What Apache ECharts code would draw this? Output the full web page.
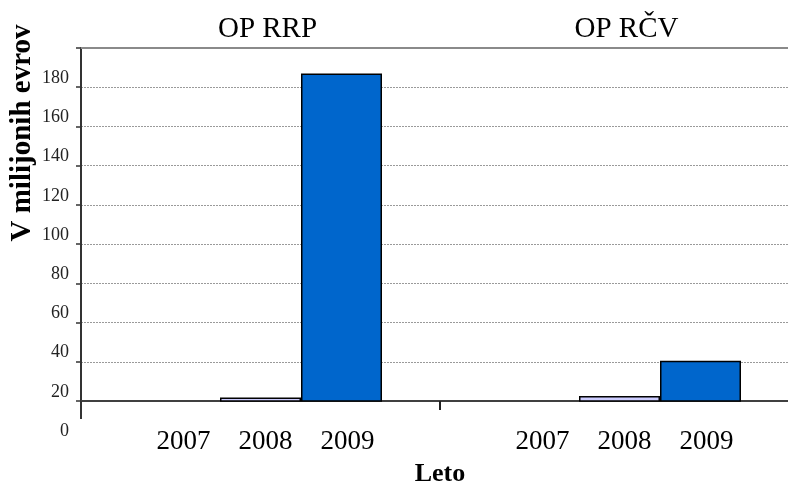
<!DOCTYPE html>
<html>
<head>
<meta charset="utf-8">
<script src="https://cdn.jsdelivr.net/npm/echarts@6/dist/echarts.min.js"></script>
<style>
html,body{margin:0;padding:0;background:#fff;}
#chart{width:788px;height:486px;}
</style>
</head>
<body>
<div id="chart"></div>
<script>
const groups = ['OP RRP', 'OP RČV'];
const years = ['2007', '2008', '2009'];
const values2007 = [0, 0];
const values2008 = [21.8, 22.5];
const values2009 = [187, 40.5];
const yAxisTitle = 'V milijonih evrov';
const xAxisTitle = 'Leto';

const FONT = 'Liberation Serif';
const chart = echarts.init(document.getElementById('chart'), null, { renderer: 'canvas' });

const seriesValues = [values2007, values2008, values2009];
const seriesColors = ['#9999FF', '#CCCCFF', '#0066CC'];

const option = {
  animation: false,
  backgroundColor: '#ffffff',
  grid: [
    { left: 81, width: 718, top: 48, bottom: 85, containLabel: false, outerBoundsMode: 'none' },
    { left: 81, width: 718, top: 48, bottom: 46, containLabel: false, outerBoundsMode: 'none' }
  ],
  xAxis: [
    {
      type: 'category', gridIndex: 0, position: 'bottom', data: groups,
      axisLine: { show: true, lineStyle: { color: '#404040', width: 2 } },
      axisTick: { show: true, length: 9, lineStyle: { color: '#202020', width: 2 } },
      axisLabel: {
        interval: 0, margin: 27, padding: [0, 0, 0, 10],
        formatter: function () { return years.map(function (y) { return '{y|' + y + '}'; }).join(''); },
        rich: { y: { width: 82, align: 'center', fontSize: 27, fontFamily: FONT, color: '#000' } }
      },
      name: xAxisTitle, nameLocation: 'middle', nameGap: 60,
      nameTextStyle: { fontFamily: FONT, fontSize: 26, fontWeight: 'bold', color: '#000' }
    },
    {
      type: 'category', gridIndex: 0, position: 'top', data: groups,
      axisLine: { show: true, lineStyle: { color: '#8a8a8a', width: 2 } },
      axisTick: { show: false },
      axisLabel: { interval: 0, margin: 4, padding: [0, 0, 0, 14], fontFamily: FONT, fontSize: 29, color: '#000' }
    },
    {
      type: 'category', gridIndex: 0, position: 'bottom', data: groups,
      axisLine: { show: false },
      axisLabel: { show: false },
      axisTick: { show: true, length: 18, interval: function (i) { return i === 0; }, lineStyle: { color: '#333', width: 2 } }
    },
    {
      type: 'category', gridIndex: 1, data: groups, show: false
    }
  ],
  yAxis: [
    {
      type: 'value', gridIndex: 0, min: 20, max: 200, interval: 20,
      axisLine: { show: true, lineStyle: { color: '#333', width: 2 } },
      axisTick: { show: true, inside: false, length: 5, lineStyle: { color: '#333', width: 1.5 } },
      axisLabel: { show: false },
      splitLine: { show: true, lineStyle: { color: '#9a9a9a', width: 1, type: [2, 1] } }
    },
    {
      type: 'value', gridIndex: 1, min: 0, max: 200, interval: 20,
      axisLine: { show: false },
      axisTick: { show: false },
      splitLine: { show: false },
      axisLabel: {
        margin: 12, verticalAlign: 'bottom', fontFamily: FONT, fontSize: 18, color: '#222',
        formatter: function (v) { return v >= 200 ? '' : String(v); }
      }
    }
  ],
  series: years.map(function (yr, i) {
    return {
      name: yr, type: 'bar', xAxisIndex: 0, yAxisIndex: 0,
      data: seriesValues[i],
      barWidth: 81, barGap: '0%',
      itemStyle: { color: seriesColors[i], borderColor: '#000', borderWidth: 1.5 }
    };
  }),
  graphic: [
    {
      type: 'text', x: 23, y: 133, rotation: Math.PI / 2,
      style: {
        text: yAxisTitle, fontFamily: FONT, fontSize: 29, fontWeight: 'bold',
        fill: '#000', align: 'center', verticalAlign: 'middle'
      }
    }
  ]
};
chart.setOption(option);
</script>
</body>
</html>
